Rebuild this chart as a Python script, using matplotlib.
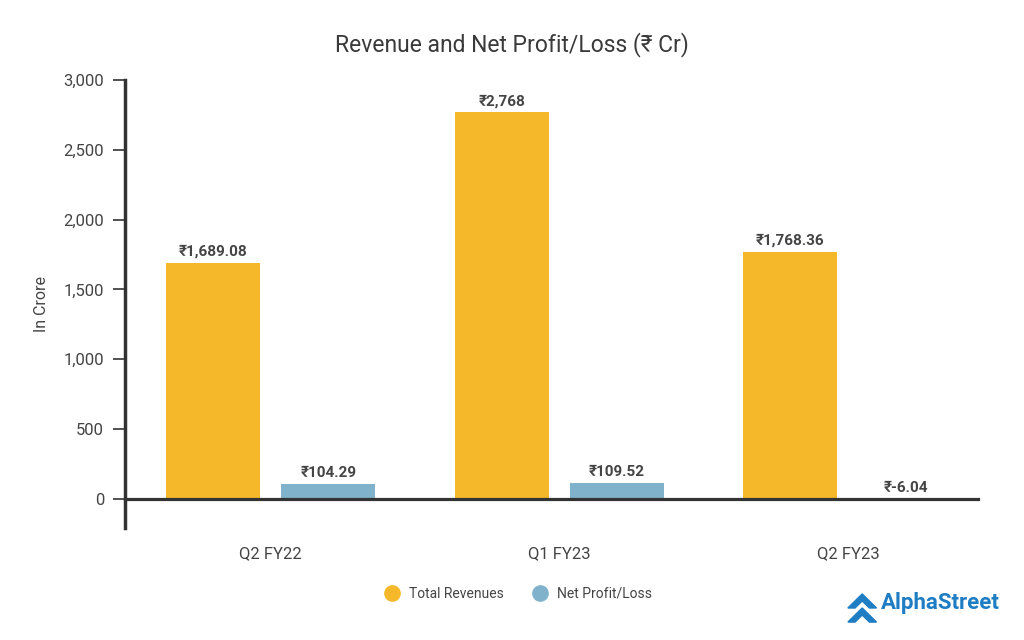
import numpy as np
import matplotlib
matplotlib.use("Agg")
import matplotlib.pyplot as plt
from matplotlib.lines import Line2D
from matplotlib.patches import Polygon

plt.rcParams["font.family"] = ["Roboto", "DejaVu Sans"]

# ── Data ──────────────────────────────────────────────────────────────────────
quarters = ["Q2 FY22", "Q1 FY23", "Q2 FY23"]
revenues = [1689.08, 2768, 1768.36]
net_profit = [104.29, 109.52, -6.04]
rev_labels = ["₹1,689.08", "₹2,768", "₹1,768.36"]
np_labels = ["₹104.29", "₹109.52", "₹-6.04"]

ORANGE = "#F5B82B"
BLUE = "#80B3CB"
TEXT = "#444444"
AXIS = "#333333"

fig = plt.figure(figsize=(10.24, 6.4), dpi=100)
ax = fig.add_axes([0.122, 0.175, 0.833, 0.70])

x = np.arange(len(quarters))
w = 0.326
ax.bar(x - 0.2, revenues, w, color=ORANGE, zorder=2)
ax.bar(x + 0.2, net_profit, w, color=BLUE, zorder=2)

for xi, v, lab in zip(x - 0.2, revenues, rev_labels):
    ax.text(xi, max(v, 0) + 28, lab, ha="center", va="bottom",
            fontsize=11, fontweight="bold", color=TEXT)
for xi, v, lab in zip(x + 0.2, net_profit, np_labels):
    ax.text(xi, max(v, 0) + 28, lab, ha="center", va="bottom",
            fontsize=11, fontweight="bold", color=TEXT)

ax.set_xlim(-0.505, 2.45)
ax.set_ylim(-210, 3000)
ax.set_yticks(range(0, 3001, 500))
ax.set_yticklabels([f"{t:,}" for t in range(0, 3001, 500)])

ax.spines["top"].set_visible(False)
ax.spines["right"].set_visible(False)
ax.spines["left"].set_color(AXIS)
ax.spines["left"].set_linewidth(2.5)
ax.spines["bottom"].set_position(("data", 0))
ax.spines["bottom"].set_color(AXIS)
ax.spines["bottom"].set_linewidth(2.3)
ax.spines["bottom"].set_zorder(3)

ax.set_xticks(x)
ax.set_xticklabels(quarters)
ax.tick_params(axis="x", length=0, pad=34, labelsize=12, labelcolor=TEXT)
ax.tick_params(axis="y", length=9, width=1.2, color=AXIS, pad=6,
               labelsize=12, labelcolor=TEXT)
ax.set_ylabel("In Crore", fontsize=11.5, color=TEXT, labelpad=10)

fig.text(0.5, 0.93, "Revenue and Net Profit/Loss (₹ Cr)", ha="center",
         va="center", fontsize=16.5, color="#3a3a3a")

handles = [
    Line2D([], [], marker="o", linestyle="", markersize=11,
           markerfacecolor=ORANGE, markeredgecolor=ORANGE, label="Total Revenues"),
    Line2D([], [], marker="o", linestyle="", markersize=11,
           markerfacecolor=BLUE, markeredgecolor=BLUE, label="Net Profit/Loss"),
]
fig.legend(handles=handles, loc="center", bbox_to_anchor=(0.503, 0.072),
           ncol=2, frameon=False, fontsize=10, handletextpad=0.2,
           columnspacing=1.6, labelcolor=TEXT)

# AlphaStreet logo
LOGO = "#1F7DC4"
for dy in (0.0, -0.022):
    fig.add_artist(Polygon(
        [(0.828, 0.050 + dy), (0.842, 0.072 + dy), (0.856, 0.050 + dy),
         (0.849, 0.050 + dy), (0.842, 0.061 + dy), (0.835, 0.050 + dy)],
        closed=True, transform=fig.transFigure, color=LOGO))
fig.text(0.860, 0.058, "AlphaStreet", ha="left", va="center",
         fontsize=16, fontweight="bold", color=LOGO)

fig.savefig("out.png", dpi=100)
